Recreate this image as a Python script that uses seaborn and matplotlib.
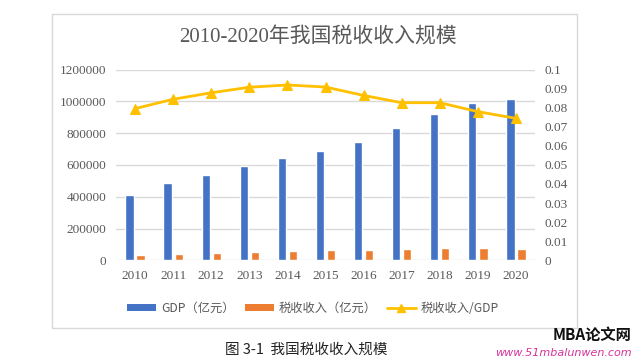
import pandas as pd
import seaborn as sns
import matplotlib.pyplot as plt
from matplotlib.patches import Rectangle, Patch
from matplotlib.lines import Line2D

years = ['2010', '2011', '2012', '2013', '2014', '2015', '2016', '2017', '2018', '2019', '2020']
gdp = [412119, 487940, 538580, 592963, 643563, 688858, 746395, 832036, 919281, 986515, 1015986]
tax = [31400, 39600, 45900, 54100, 58500, 62900, 64800, 69200, 75500, 75500, 71100]
ratio = [0.0795, 0.0844, 0.0878, 0.0907, 0.0919, 0.0908, 0.0864, 0.0826, 0.0826, 0.0779, 0.0744]

series_names = ['GDP（亿元）', '税收收入（亿元）', '税收收入/GDP']
bar_colors = ['#4472C4', '#ED7D31']
line_color = '#FFC000'
text_color = '#595959'
grid_color = '#D9D9D9'

sns.set_style('white')
plt.rcParams['font.family'] = ['Liberation Serif', 'Noto Sans CJK SC', 'DejaVu Sans']

# long form table for the bars
df = pd.DataFrame({
    'year': years * 2,
    'value': gdp + tax,
    'series': [series_names[0]] * len(years) + [series_names[1]] * len(years),
})

fig = plt.figure(figsize=(6.37, 3.58), dpi=100)
ax = fig.add_axes([116 / 637, 97.7 / 358, 419 / 637, 190.8 / 358])

sns.barplot(data=df, x='year', y='value', hue='series', palette=bar_colors,
            width=0.58, gap=0.25, ax=ax, legend=False, saturation=1)
ax.set_ylim(0, 1200000)
ax.set_yticks(range(0, 1200001, 200000))
ax.set_yticklabels([str(v) for v in range(0, 1200001, 200000)])
ax.set_xlabel('')
ax.set_ylabel('')
ax.grid(axis='y', color=grid_color, linewidth=1)
ax.set_axisbelow(True)
for s in ax.spines.values():
    s.set_visible(False)
ax.tick_params(axis='both', length=0, labelsize=9.5, labelcolor=text_color)
ax.tick_params(axis='y', pad=7)
ax.tick_params(axis='x', pad=7)
ax.set_xlim(-0.5, len(years) - 0.5)

ax2 = ax.twinx()
sns.lineplot(x=list(range(len(years))), y=ratio, ax=ax2, color=line_color,
             linewidth=2, marker='^', markersize=7, markeredgecolor=line_color)
ax2.set_ylim(0, 0.1)
ax2.set_yticks([i / 100 for i in range(11)])
ax2.set_yticklabels(['0'] + [f'0.0{i}' for i in range(1, 10)] + ['0.1'])
for s in ax2.spines.values():
    s.set_visible(False)
ax2.tick_params(axis='y', length=0, labelsize=9.5, labelcolor=text_color, pad=7)
ax2.set_xlim(-0.5, len(years) - 0.5)

fig.text(0.5, 0.895, '2010-2020年我国税收收入规模', ha='center', va='center',
         fontsize=15, color=text_color)

handles = [
    Patch(facecolor=bar_colors[0], edgecolor='none'),
    Patch(facecolor=bar_colors[1], edgecolor='none'),
    Line2D([], [], color=line_color, linewidth=2, marker='^', markersize=5.5),
]
fig.legend(handles, series_names, loc='center', bbox_to_anchor=(313 / 637, 1 - 308 / 358),
           ncol=3, frameon=False, handlelength=2.4, handleheight=0.5, columnspacing=0.8,
           handletextpad=0.4, prop={'family': ['Noto Sans CJK SC'], 'size': 8.8},
           labelcolor=text_color)

# chart frame
fig.patches.append(Rectangle((52 / 637, 30 / 358), 525 / 637, 314 / 358,
                             transform=fig.transFigure, fill=False,
                             edgecolor=grid_color, linewidth=1))

fig.text(306 / 637, 1 - 350 / 358, '图 3-1  我国税收收入规模', ha='center', va='center',
         fontsize=10.5, color='#222222', family=['Noto Sans CJK SC'])

fig.text(632 / 637, 1 - 335 / 358, 'MBA论文网', ha='right', va='center', fontsize=11,
         fontweight='bold', style='italic', color='#111111', family=['Noto Sans CJK SC'])
fig.text(632 / 637, 1 - 353 / 358, 'www.51mbalunwen.com', ha='right', va='center',
         fontsize=8, style='italic', color='#D6339A', family=['DejaVu Sans'])

fig.savefig('out.png', dpi=100)
